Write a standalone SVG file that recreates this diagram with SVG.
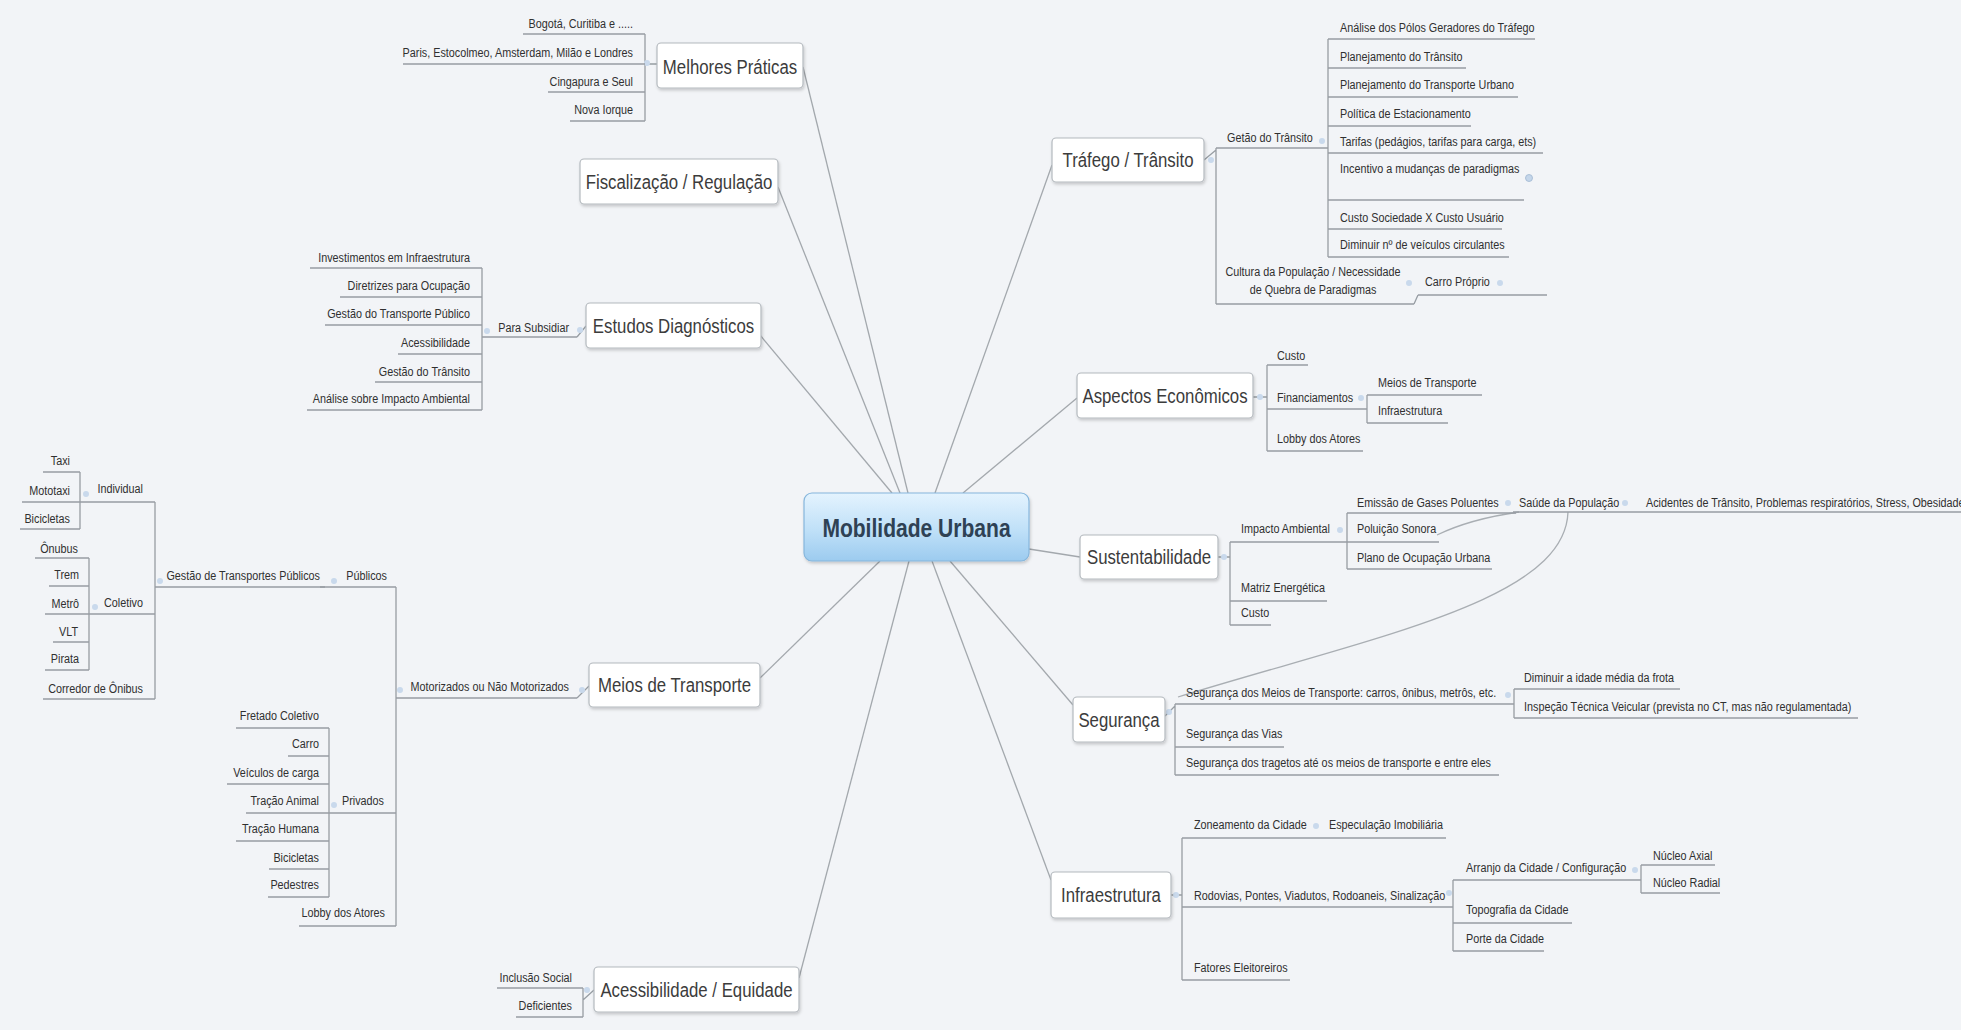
<svg xmlns="http://www.w3.org/2000/svg" width="1961" height="1030" viewBox="0 0 1961 1030">
<defs>
<linearGradient id="cg" x1="0" y1="0" x2="0" y2="1">
<stop offset="0" stop-color="#e4f3fe"/>
<stop offset="0.55" stop-color="#bfe0f8"/>
<stop offset="1" stop-color="#9ccbef"/>
</linearGradient>
<filter id="sh" x="-10%" y="-20%" width="125%" height="150%">
<feDropShadow dx="1" dy="2" stdDeviation="1.5" flood-color="#000" flood-opacity="0.18"/>
</filter>
</defs>
<style>
.bg{fill:#f2f4f7}
.box{fill:#fff;stroke:#b4b9be;stroke-width:1.2;filter:url(#sh)}
.cbox{fill:url(#cg);stroke:#86b6dc;stroke-width:1.2;filter:url(#sh)}
.ct{font-family:"Liberation Sans",Arial,sans-serif;font-size:26px;font-weight:bold;fill:#2e4154;text-anchor:middle}
.tt{font-family:"Liberation Sans",Arial,sans-serif;font-size:21px;fill:#3c3c3c;text-anchor:middle}
.s{font-family:"Liberation Sans",Arial,sans-serif;font-size:13.5px;fill:#303030}
.e{text-anchor:end}
.m{text-anchor:middle}
.ul{stroke:#979da3;stroke-width:1.3;fill:none}
.cn{stroke:#a3a8ad;stroke-width:1.3;fill:none}
.rel{stroke:#a9aeb3;stroke-width:1.3;fill:none}
.dot{fill:#c9d9ec}
</style>
<rect class="bg" x="0" y="0" width="1961" height="1030"/>

<g id="connectors">
<!-- main branches -->
<line class="cn" x1="803" y1="67" x2="908" y2="493"/>
<line class="cn" x1="778" y1="187" x2="900" y2="493"/>
<line class="cn" x1="760" y1="335" x2="892" y2="493"/>
<line class="cn" x1="760" y1="678" x2="880" y2="561"/>
<line class="cn" x1="799" y1="978" x2="909" y2="561"/>
<line class="cn" x1="1052" y1="165" x2="935" y2="493"/>
<line class="cn" x1="1077" y1="398" x2="963" y2="493"/>
<line class="cn" x1="1029" y1="549" x2="1080" y2="557"/>
<line class="cn" x1="1073" y1="705" x2="950" y2="561"/>
<line class="cn" x1="1051" y1="880" x2="932" y2="561"/>
<!-- Melhores Praticas -->
<path class="ul" d="M645,34 V121 M645,64 H657"/>
<!-- Estudos -->
<path class="ul" d="M482,268 V410 M577,337 L586,326"/>
<!-- Meios de Transporte -->
<path class="ul" d="M396,587 V926 M577,698 L589,686 M329,728 V897 M155,502 V699 M80,472 V529 M89,558 V670"/>
<!-- Acessibilidade -->
<path class="ul" d="M583,988 V1017 M583,1000 L594,990"/>
<!-- Trafego -->
<path class="ul" d="M1204,160 L1216,150 M1216,148 V304 M1328,39 V257 M1414,304 L1418,295"/>
<!-- Aspectos -->
<path class="ul" d="M1253,397 H1267 M1267,365 V451 M1367,395 V423"/>
<!-- Sustentabilidade -->
<path class="ul" d="M1218,557 H1230 M1230,542 V625 M1347,513 V569"/>
<!-- Seguranca -->
<path class="ul" d="M1165,716 L1175,706 M1175,704 V775 M1514,689 V718"/>
<!-- Infraestrutura -->
<path class="ul" d="M1171,895 H1182 M1182,838 V980 M1453,880 V951 M1641,865 V893"/>
<!-- relationships -->
<path class="rel" d="M1437,535 Q1470,519 1519,512"/>
<path class="rel" d="M1568,512 C1565,600 1380,635 1178,697"/>
<!-- junction dots -->
<circle class="dot" cx="647" cy="63" r="3"/>
<circle class="dot" cx="487" cy="331" r="3"/>
<circle class="dot" cx="580" cy="330" r="3"/>
<circle class="dot" cx="160" cy="581" r="3"/>
<circle class="dot" cx="334" cy="581" r="3"/>
<circle class="dot" cx="86" cy="494" r="3"/>
<circle class="dot" cx="95" cy="607" r="3"/>
<circle class="dot" cx="334" cy="805" r="3"/>
<circle class="dot" cx="400" cy="690" r="3"/>
<circle class="dot" cx="582" cy="690" r="3"/>
<circle class="dot" cx="587" cy="990" r="3"/>
<circle class="dot" cx="1211" cy="160" r="3"/>
<circle class="dot" cx="1322" cy="141" r="3"/>
<circle class="dot" cx="1409" cy="283" r="3"/>
<circle class="dot" cx="1500" cy="283" r="3"/>
<circle class="dot" cx="1260" cy="397" r="3"/>
<circle class="dot" cx="1361" cy="398" r="3"/>
<circle class="dot" cx="1224" cy="557" r="3"/>
<circle class="dot" cx="1340" cy="530" r="3"/>
<circle class="dot" cx="1508" cy="503" r="3"/>
<circle class="dot" cx="1625" cy="503" r="3"/>
<circle class="dot" cx="1169" cy="712" r="3"/>
<circle class="dot" cx="1508" cy="695" r="3"/>
<circle class="dot" cx="1176" cy="895" r="3"/>
<circle class="dot" cx="1316" cy="826" r="3"/>
<circle class="dot" cx="1449" cy="893" r="3"/>
<circle class="dot" cx="1635" cy="870" r="3"/>
</g>

<g id="n-central">
<rect class="cbox" x="804" y="493" width="225" height="68" rx="8"/>
<text class="ct" transform="matrix(.81,0,0,1,916.5,537)">Mobilidade Urbana</text>
</g>

<!-- ===== Melhores Praticas ===== -->
<g id="n-melhores">
<rect class="box" x="657" y="43" width="146" height="45" rx="4"/>
<text class="tt" transform="matrix(.8,0,0,1,730,74)">Melhores Práticas</text>
</g>
<g id="n-bogota"><text class="s e" transform="matrix(.8,0,0,1,633,28)">Bogotá, Curitiba e .....</text><line class="ul" x1="523" y1="34" x2="645" y2="34"/></g>
<g id="n-paris"><text class="s e" transform="matrix(.8,0,0,1,633,57)">Paris, Estocolmeo, Amsterdam, Milão e Londres</text><line class="ul" x1="403" y1="64" x2="645" y2="64"/></g>
<g id="n-cingapura"><text class="s e" transform="matrix(.8,0,0,1,633,86)">Cingapura e Seul</text><line class="ul" x1="548" y1="92" x2="645" y2="92"/></g>
<g id="n-novaiorque"><text class="s e" transform="matrix(.8,0,0,1,633,114)">Nova Iorque</text><line class="ul" x1="570" y1="121" x2="645" y2="121"/></g>

<!-- ===== Fiscalizacao ===== -->
<g id="n-fiscalizacao">
<rect class="box" x="580" y="159" width="198" height="45" rx="4"/>
<text class="tt" transform="matrix(.8,0,0,1,679,189)">Fiscalização / Regulação</text>
</g>

<!-- ===== Estudos Diagnosticos ===== -->
<g id="n-estudos">
<rect class="box" x="586" y="303" width="175" height="45" rx="4"/>
<text class="tt" transform="matrix(.8,0,0,1,673.5,333)">Estudos Diagnósticos</text>
</g>
<g id="n-parasubsidiar"><text class="s e" transform="matrix(.8,0,0,1,569,332)">Para Subsidiar</text><line class="ul" x1="482" y1="337" x2="577" y2="337"/></g>
<g id="n-investimentos"><text class="s e" transform="matrix(.8,0,0,1,470,262)">Investimentos em Infraestrutura</text><line class="ul" x1="310" y1="268" x2="482" y2="268"/></g>
<g id="n-diretrizes"><text class="s e" transform="matrix(.8,0,0,1,470,290)">Diretrizes para Ocupação</text><line class="ul" x1="340" y1="297" x2="482" y2="297"/></g>
<g id="n-gestaotp"><text class="s e" transform="matrix(.8,0,0,1,470,318)">Gestão do Transporte Público</text><line class="ul" x1="325" y1="325" x2="482" y2="325"/></g>
<g id="n-acessibilidade2"><text class="s e" transform="matrix(.8,0,0,1,470,347)">Acessibilidade</text><line class="ul" x1="398" y1="354" x2="482" y2="354"/></g>
<g id="n-gestaotransito"><text class="s e" transform="matrix(.8,0,0,1,470,376)">Gestão do Trânsito</text><line class="ul" x1="375" y1="382" x2="482" y2="382"/></g>
<g id="n-analiseimpacto"><text class="s e" transform="matrix(.8,0,0,1,470,403)">Análise sobre Impacto Ambiental</text><line class="ul" x1="307" y1="410" x2="482" y2="410"/></g>

<!-- ===== Meios de Transporte ===== -->
<g id="n-meios">
<rect class="box" x="589" y="663" width="171" height="44" rx="4"/>
<text class="tt" transform="matrix(.8,0,0,1,674.5,692)">Meios de Transporte</text>
</g>
<g id="n-motorizados"><text class="s e" transform="matrix(.8,0,0,1,569,691)">Motorizados ou Não Motorizados</text><line class="ul" x1="396" y1="698" x2="577" y2="698"/></g>
<g id="n-publicos"><text class="s e" transform="matrix(.8,0,0,1,387,580)">Públicos</text><line class="ul" x1="320" y1="587" x2="396" y2="587"/></g>
<g id="n-gestaotransportes"><text class="s e" transform="matrix(.8,0,0,1,320,580)">Gestão de Transportes Públicos</text><line class="ul" x1="155" y1="587" x2="325" y2="587"/></g>
<g id="n-individual"><text class="s e" transform="matrix(.8,0,0,1,143,493)">Individual</text><line class="ul" x1="80" y1="502" x2="155" y2="502"/></g>
<g id="n-taxi"><text class="s e" transform="matrix(.8,0,0,1,70,465)">Taxi</text><line class="ul" x1="43" y1="472" x2="80" y2="472"/></g>
<g id="n-mototaxi"><text class="s e" transform="matrix(.8,0,0,1,70,495)">Mototaxi</text><line class="ul" x1="22" y1="502" x2="80" y2="502"/></g>
<g id="n-bicicletas1"><text class="s e" transform="matrix(.8,0,0,1,70,523)">Bicicletas</text><line class="ul" x1="20" y1="529" x2="80" y2="529"/></g>
<g id="n-coletivo"><text class="s e" transform="matrix(.8,0,0,1,143,607)">Coletivo</text><line class="ul" x1="89" y1="614" x2="155" y2="614"/></g>
<g id="n-onibus"><text class="s e" transform="matrix(.8,0,0,1,78,553)">Ônubus</text><line class="ul" x1="35" y1="558" x2="89" y2="558"/></g>
<g id="n-trem"><text class="s e" transform="matrix(.8,0,0,1,79,579)">Trem</text><line class="ul" x1="49" y1="586" x2="89" y2="586"/></g>
<g id="n-metro"><text class="s e" transform="matrix(.8,0,0,1,79,608)">Metrô</text><line class="ul" x1="45" y1="614" x2="89" y2="614"/></g>
<g id="n-vlt"><text class="s e" transform="matrix(.8,0,0,1,78,636)">VLT</text><line class="ul" x1="53" y1="642" x2="89" y2="642"/></g>
<g id="n-pirata"><text class="s e" transform="matrix(.8,0,0,1,79,663)">Pirata</text><line class="ul" x1="45" y1="670" x2="89" y2="670"/></g>
<g id="n-corredor"><text class="s e" transform="matrix(.8,0,0,1,143,693)">Corredor de Ônibus</text><line class="ul" x1="43" y1="699" x2="155" y2="699"/></g>
<g id="n-privados"><text class="s e" transform="matrix(.8,0,0,1,384,805)">Privados</text><line class="ul" x1="329" y1="813" x2="396" y2="813"/></g>
<g id="n-fretado"><text class="s e" transform="matrix(.8,0,0,1,319,720)">Fretado Coletivo</text><line class="ul" x1="236" y1="728" x2="329" y2="728"/></g>
<g id="n-carro"><text class="s e" transform="matrix(.8,0,0,1,319,748)">Carro</text><line class="ul" x1="288" y1="756" x2="329" y2="756"/></g>
<g id="n-veiculos"><text class="s e" transform="matrix(.8,0,0,1,319,777)">Veículos de carga</text><line class="ul" x1="227" y1="784" x2="329" y2="784"/></g>
<g id="n-tracaoanimal"><text class="s e" transform="matrix(.8,0,0,1,319,805)">Tração Animal</text><line class="ul" x1="246" y1="813" x2="329" y2="813"/></g>
<g id="n-tracaohumana"><text class="s e" transform="matrix(.8,0,0,1,319,833)">Tração Humana</text><line class="ul" x1="236" y1="841" x2="329" y2="841"/></g>
<g id="n-bicicletas2"><text class="s e" transform="matrix(.8,0,0,1,319,862)">Bicicletas</text><line class="ul" x1="269" y1="869" x2="329" y2="869"/></g>
<g id="n-pedestres"><text class="s e" transform="matrix(.8,0,0,1,319,889)">Pedestres</text><line class="ul" x1="268" y1="897" x2="329" y2="897"/></g>
<g id="n-lobby1"><text class="s e" transform="matrix(.8,0,0,1,385,917)">Lobby dos Atores</text><line class="ul" x1="299" y1="926" x2="396" y2="926"/></g>

<!-- ===== Acessibilidade ===== -->
<g id="n-acessibilidade">
<rect class="box" x="594" y="967" width="205" height="45" rx="4"/>
<text class="tt" transform="matrix(.8,0,0,1,696.5,997)">Acessibilidade / Equidade</text>
</g>
<g id="n-inclusao"><text class="s e" transform="matrix(.8,0,0,1,572,982)">Inclusão Social</text><line class="ul" x1="497" y1="988" x2="583" y2="988"/></g>
<g id="n-deficientes"><text class="s e" transform="matrix(.8,0,0,1,572,1010)">Deficientes</text><line class="ul" x1="516" y1="1017" x2="583" y2="1017"/></g>

<!-- ===== Trafego ===== -->
<g id="n-trafego">
<rect class="box" x="1052" y="138" width="152" height="44" rx="4"/>
<text class="tt" transform="matrix(.8,0,0,1,1128,167)">Tráfego / Trânsito</text>
</g>
<g id="n-getao"><text class="s" transform="matrix(.8,0,0,1,1227,142)">Getão do Trânsito</text><line class="ul" x1="1216" y1="148" x2="1328" y2="148"/></g>
<g id="n-polos"><text class="s" transform="matrix(.8,0,0,1,1340,32)">Análise dos Pólos Geradores do Tráfego</text><line class="ul" x1="1328" y1="39" x2="1535" y2="39"/></g>
<g id="n-plantransito"><text class="s" transform="matrix(.8,0,0,1,1340,61)">Planejamento do Trânsito</text><line class="ul" x1="1328" y1="68" x2="1466" y2="68"/></g>
<g id="n-plantransporte"><text class="s" transform="matrix(.8,0,0,1,1340,89)">Planejamento do Transporte Urbano</text><line class="ul" x1="1328" y1="97" x2="1518" y2="97"/></g>
<g id="n-politica"><text class="s" transform="matrix(.8,0,0,1,1340,118)">Política de Estacionamento</text><line class="ul" x1="1328" y1="126" x2="1471" y2="126"/></g>
<g id="n-tarifas"><text class="s" transform="matrix(.8,0,0,1,1340,146)">Tarifas (pedágios, tarifas para carga, ets)</text><line class="ul" x1="1328" y1="153" x2="1543" y2="153"/></g>
<g id="n-incentivo"><text class="s" transform="matrix(.8,0,0,1,1340,173)">Incentivo a mudanças de paradigmas</text><circle cx="1529" cy="178" r="3.5" fill="#c4d6ea" stroke="#9fb6d0" stroke-width="0.8"/><line class="ul" x1="1328" y1="200" x2="1524" y2="200"/></g>
<g id="n-custosoc"><text class="s" transform="matrix(.8,0,0,1,1340,222)">Custo Sociedade X Custo Usuário</text><line class="ul" x1="1328" y1="229" x2="1502" y2="229"/></g>
<g id="n-diminuir"><text class="s" transform="matrix(.8,0,0,1,1340,249)">Diminuir nº de veículos circulantes</text><line class="ul" x1="1328" y1="257" x2="1509" y2="257"/></g>
<g id="n-cultura"><text class="s m" transform="matrix(.8,0,0,1,1313,276)">Cultura da População / Necessidade</text><text class="s m" transform="matrix(.8,0,0,1,1313,294)">de Quebra de Paradigmas</text><line class="ul" x1="1216" y1="304" x2="1414" y2="304"/></g>
<g id="n-carroproprio"><text class="s" transform="matrix(.8,0,0,1,1425,286)">Carro Próprio</text><line class="ul" x1="1418" y1="295" x2="1547" y2="295"/></g>

<!-- ===== Aspectos Economicos ===== -->
<g id="n-aspectos">
<rect class="box" x="1077" y="373" width="176" height="45" rx="4"/>
<text class="tt" transform="matrix(.8,0,0,1,1165,403)">Aspectos Econômicos</text>
</g>
<g id="n-custo1"><text class="s" transform="matrix(.8,0,0,1,1277,360)">Custo</text><line class="ul" x1="1267" y1="365" x2="1308" y2="365"/></g>
<g id="n-financiamentos"><text class="s" transform="matrix(.8,0,0,1,1277,402)">Financiamentos</text><line class="ul" x1="1267" y1="409" x2="1367" y2="409"/></g>
<g id="n-lobby2"><text class="s" transform="matrix(.8,0,0,1,1277,443)">Lobby dos Atores</text><line class="ul" x1="1267" y1="451" x2="1363" y2="451"/></g>
<g id="n-meiostransp"><text class="s" transform="matrix(.8,0,0,1,1378,387)">Meios de Transporte</text><line class="ul" x1="1367" y1="395" x2="1482" y2="395"/></g>
<g id="n-infraestrutura2"><text class="s" transform="matrix(.8,0,0,1,1378,415)">Infraestrutura</text><line class="ul" x1="1367" y1="423" x2="1448" y2="423"/></g>

<!-- ===== Sustentabilidade ===== -->
<g id="n-sustentabilidade">
<rect class="box" x="1080" y="535" width="138" height="44" rx="4"/>
<text class="tt" transform="matrix(.8,0,0,1,1149,564)">Sustentabilidade</text>
</g>
<g id="n-impacto"><text class="s" transform="matrix(.8,0,0,1,1241,533)">Impacto Ambiental</text><line class="ul" x1="1230" y1="542" x2="1347" y2="542"/></g>
<g id="n-matriz"><text class="s" transform="matrix(.8,0,0,1,1241,592)">Matriz Energética</text><line class="ul" x1="1230" y1="601" x2="1327" y2="601"/></g>
<g id="n-custo2"><text class="s" transform="matrix(.8,0,0,1,1241,617)">Custo</text><line class="ul" x1="1230" y1="625" x2="1271" y2="625"/></g>
<g id="n-emissao"><text class="s" transform="matrix(.8,0,0,1,1357,507)">Emissão de Gases Poluentes</text><line class="ul" x1="1347" y1="513" x2="1516" y2="513"/></g>
<g id="n-poluicao"><text class="s" transform="matrix(.8,0,0,1,1357,533)">Poluição Sonora</text><line class="ul" x1="1347" y1="542" x2="1439" y2="542"/></g>
<g id="n-plano"><text class="s" transform="matrix(.8,0,0,1,1357,562)">Plano de Ocupação Urbana</text><line class="ul" x1="1347" y1="569" x2="1492" y2="569"/></g>
<g id="n-saude"><text class="s" transform="matrix(.8,0,0,1,1519,507)">Saúde da População</text><line class="ul" x1="1513" y1="512" x2="1634" y2="512"/></g>
<g id="n-acidentes"><text class="s" transform="matrix(.8,0,0,1,1646,507)">Acidentes de Trânsito, Problemas respiratórios, Stress, Obesidade</text><line class="ul" x1="1634" y1="512" x2="1961" y2="512"/></g>

<!-- ===== Seguranca ===== -->
<g id="n-seguranca">
<rect class="box" x="1073" y="697" width="92" height="45" rx="4"/>
<text class="tt" transform="matrix(.8,0,0,1,1119,727)">Segurança</text>
</g>
<g id="n-segmeios"><text class="s" transform="matrix(.8,0,0,1,1186,697)">Segurança dos Meios de Transporte: carros, ônibus, metrôs, etc.</text><line class="ul" x1="1175" y1="704" x2="1514" y2="704"/></g>
<g id="n-segvias"><text class="s" transform="matrix(.8,0,0,1,1186,738)">Segurança das Vias</text><line class="ul" x1="1175" y1="747" x2="1284" y2="747"/></g>
<g id="n-segtrajetos"><text class="s" transform="matrix(.8,0,0,1,1186,767)">Segurança dos tragetos até os meios de transporte e entre eles</text><line class="ul" x1="1175" y1="775" x2="1499" y2="775"/></g>
<g id="n-idade"><text class="s" transform="matrix(.8,0,0,1,1524,682)">Diminuir a idade média da frota</text><line class="ul" x1="1514" y1="689" x2="1680" y2="689"/></g>
<g id="n-inspecao"><text class="s" transform="matrix(.8,0,0,1,1524,711)">Inspeção Técnica Veicular (prevista no CT, mas não regulamentada)</text><line class="ul" x1="1514" y1="718" x2="1858" y2="718"/></g>

<!-- ===== Infraestrutura ===== -->
<g id="n-infraestrutura">
<rect class="box" x="1051" y="872" width="120" height="46" rx="4"/>
<text class="tt" transform="matrix(.8,0,0,1,1111,902)">Infraestrutura</text>
</g>
<g id="n-zoneamento"><text class="s" transform="matrix(.8,0,0,1,1194,829)">Zoneamento da Cidade</text><line class="ul" x1="1182" y1="838" x2="1320" y2="838"/></g>
<g id="n-especulacao"><text class="s" transform="matrix(.8,0,0,1,1329,829)">Especulação Imobiliária</text><line class="ul" x1="1320" y1="838" x2="1446" y2="838"/></g>
<g id="n-rodovias"><text class="s" transform="matrix(.8,0,0,1,1194,900)">Rodovias, Pontes, Viadutos, Rodoaneis, Sinalização</text><line class="ul" x1="1182" y1="907" x2="1453" y2="907"/></g>
<g id="n-fatores"><text class="s" transform="matrix(.8,0,0,1,1194,972)">Fatores Eleitoreiros</text><line class="ul" x1="1182" y1="980" x2="1290" y2="980"/></g>
<g id="n-arranjo"><text class="s" transform="matrix(.8,0,0,1,1466,872)">Arranjo da Cidade / Configuração</text><line class="ul" x1="1453" y1="880" x2="1641" y2="880"/></g>
<g id="n-topografia"><text class="s" transform="matrix(.8,0,0,1,1466,914)">Topografia da Cidade</text><line class="ul" x1="1453" y1="923" x2="1572" y2="923"/></g>
<g id="n-porte"><text class="s" transform="matrix(.8,0,0,1,1466,943)">Porte da Cidade</text><line class="ul" x1="1453" y1="951" x2="1544" y2="951"/></g>
<g id="n-axial"><text class="s" transform="matrix(.8,0,0,1,1653,860)">Núcleo Axial</text><line class="ul" x1="1641" y1="865" x2="1715" y2="865"/></g>
<g id="n-radial"><text class="s" transform="matrix(.8,0,0,1,1653,887)">Núcleo Radial</text><line class="ul" x1="1641" y1="893" x2="1720" y2="893"/></g>
</svg>
